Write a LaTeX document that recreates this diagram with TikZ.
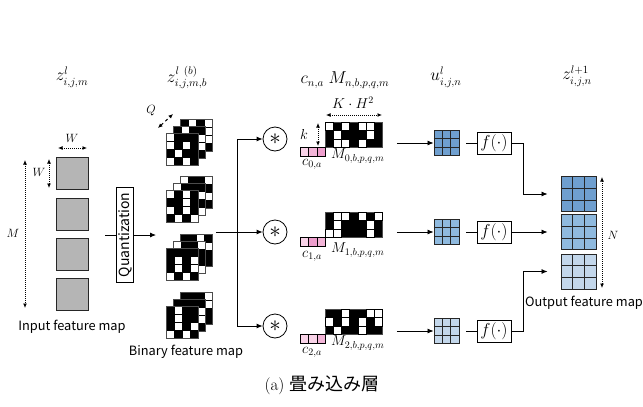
\documentclass[tikz,border=0pt]{standalone}
\usepackage{fontspec}
\newfontfamily\jpsans{Noto Sans CJK JP}
\usetikzlibrary{arrows.meta,calc}
\definecolor{uA}{HTML}{6F9FCF}
\definecolor{uB}{HTML}{8FBADF}
\definecolor{uC}{HTML}{C3D7EB}
\definecolor{pkA}{HTML}{F9D3E8}
\definecolor{pkB}{HTML}{F3B5D8}
\definecolor{pkC}{HTML}{EE9ECD}
\definecolor{gsq}{HTML}{B5B5B5}

\newcommand\blayer[3]{%
  \fill[black] (#1,#2) rectangle ++(32,32);
  \foreach \cc/\rr in {#3}{\draw[fill=white,line width=0.5pt] ({#1+\cc*8},{#2+\rr*8}) rectangle ++(8,8);}
  \draw[black!70,line width=0.5pt] (#1,#2) rectangle ++(32,32);
}
\newcommand\bstack[5]{%
  \blayer{#1+14}{#2}{#3}
  \blayer{#1+7}{#2+7}{#4}
  \blayer{#1}{#2+14}{#5}
}
\newcommand\bgrid[5]{%
  \node[draw=black!85,line width=0.9pt,fill=#5,minimum size=#4,inner sep=0pt] (#1) at (#2,#3) {};
  \foreach \t in {1,2}{
    \draw[black!85,line width=0.9pt] ($(#1.north west)!\t/3!(#1.north east)$) -- ($(#1.south west)!\t/3!(#1.south east)$);
    \draw[black!85,line width=0.9pt] ($(#1.north west)!\t/3!(#1.south west)$) -- ($(#1.north east)!\t/3!(#1.south east)$);
  }
}
\newcommand\mgrid[4]{%
  \node[fill=black,draw=black!70,line width=0.5pt,minimum width=57.4,minimum height=25.2,inner sep=0pt,anchor=north west] (#1) at (#2,#3) {};
  \foreach \cc/\rr in {#4}{\draw[fill=white,line width=0.5pt] ({#2+\cc*8.2},{#3+\rr*8.4}) rectangle ++(8.2,8.4);}
}
\newcommand\cbar[5]{%
  \draw[fill=#3,line width=0.6pt] (#1,#2) rectangle ++(8.5,9);
  \draw[fill=#4,line width=0.6pt] (#1+8.5,#2) rectangle ++(8.5,9);
  \draw[fill=#5,line width=0.6pt] (#1+17,#2) rectangle ++(8.5,9);
}

\begin{document}
\begin{tikzpicture}[x=1pt,y=-1pt,
  conn/.style={line width=0.8pt,-{Latex[length=6pt,width=5pt]}},
  plain/.style={line width=0.8pt},
  dim/.style={densely dotted,line width=1pt,{Latex[length=4.5pt,width=4pt]}-{Latex[length=4.5pt,width=4pt]}},
  ttl/.style={font=\fontsize{16}{18}\selectfont},
  lbl/.style={font=\fontsize{12.5}{14}\selectfont,inner sep=1pt},
  mlbl/.style={font=\fontsize{14}{16}\selectfont,inner sep=1pt},
  sans/.style={font=\jpsans\fontsize{12.8}{15}\selectfont},
  conv/.style={draw,circle,line width=0.8pt,minimum size=24,inner sep=0pt},
  fbox/.style={draw,line width=0.8pt,minimum width=34,minimum height=22,inner sep=0pt,font=\fontsize{16.5}{18}\selectfont},
  sq/.style={draw=black!85,line width=0.9pt,fill=gsq,minimum size=32,inner sep=0pt}]
\useasboundingbox (0,0) rectangle (643,407);

% titles
\node[ttl] (t1) at (72,77) {$z^{l}_{i,j,m}$};
\node[ttl] (t2) at (187,77) {$z^{l\ (b)}_{i,j,m,b}$};
\node[ttl] (t3) at (345,80) {$c_{n,a}\; M_{n,b,p,q,m}$};
\node[ttl] (t4) at (446,77) {$u^{l}_{i,j,n}$};
\node[ttl] (t5) at (577,76) {$z^{l+1}_{i,j,n}$};

% input feature map
\node[sq] (in1) at (72,173) {};
\node[sq] (in2) at (72,214) {};
\node[sq] (in3) at (72,254) {};
\node[sq] (in4) at (72,294) {};
\coordinate (mtop) at (25,160);
\coordinate (mbot) at (25,308);
\draw[dim] (mtop) -- (mbot);
\node[lbl] (mlab) at (13,233) {$M$};
\coordinate (wvt) at (49,159);
\coordinate (wvb) at (49,188);
\draw[dim] (wvt) -- (wvb);
\node[lbl] (wvlab) at (39,172) {$W$};
\coordinate (wha) at (58,148);
\coordinate (whb) at (87,148);
\draw[dim] (wha) -- (whb);
\node[lbl] (whlab) at (72,138) {$W$};
\node[sans] (inlab) at (72,327) {Input feature map};

% quantization
\node[draw,line width=0.8pt,minimum width=17,minimum height=95,inner sep=0pt,font=\jpsans\fontsize{14}{16}\selectfont] (q) at (125,235) {\rotatebox{90}{Quantization}};
\coordinate (qin) at (105,235);
\coordinate (qout) at (156,235);
\draw[plain] (qin) -- (q.west);
\draw[conn] (q.east) -- (qout);

% binary feature maps
\bstack{166}{119}{1/0,3/0,3/1,2/2,3/2}{1/0,3/1,3/2,2/3}{0/0,0/1,2/1,1/2,0/3,2/3}
\bstack{166}{176}{0/0,3/0,2/1,3/2}{0/0,3/1,1/2,3/3}{0/0,2/0,2/1,0/2,2/2,1/3,3/3}
\bstack{166}{234}{2/0,3/1}{0/0,3/0,2/2,3/3}{1/1,3/1,1/2,3/2,0/3,2/3}
\bstack{166}{292}{3/0,2/1,3/1}{3/1,2/2,3/2}{1/0,1/1,1/2,3/2,0/3,2/3}
\coordinate (qa) at (158,128);
\coordinate (qb) at (173,114);
\draw[dim,dashed] (qa) -- (qb);
\node[lbl] (qlab) at (151,111) {$Q$};
\node[sans] (binlab) at (186,352) {Binary feature map};

% bus and convolutions
\node[conv] (c1) at (275,139) {\scalebox{2.3}{$\ast$}};
\node[conv] (c2) at (275,232) {\scalebox{2.3}{$\ast$}};
\node[conv] (c3) at (275,326) {\scalebox{2.3}{$\ast$}};
\coordinate (bin) at (216,232);
\coordinate (b1) at (237,139);
\coordinate (b3) at (237,326);
\draw[plain] (b1) -- (b3);
\draw[conn] (b1) -- (c1);
\draw[conn] (bin) -- (c2);
\draw[conn] (b3) -- (c3);

% weight blocks
\mgrid{m1}{325}{122}{0/0,2/0,4/0,5/0,1/1,5/1,1/2,2/2,4/2}
\mgrid{m2}{325}{212}{1/0,2/0,4/0,6/0,1/1,5/1,0/2,1/2,5/2}
\mgrid{m3}{325}{309}{2/0,5/0,6/0,0/1,2/1,4/1,6/1,1/2,4/2}
\cbar{300}{147}{pkA}{pkB}{pkC}
\cbar{300}{237.5}{pkA}{pkC}{pkB}
\cbar{300}{334}{pkA}{pkA}{pkB}
\node[mlbl,anchor=west] (ml1) at (330,156) {$M_{0,b,p,q,m}$};
\node[mlbl,anchor=west] (ml2) at (330,250) {$M_{1,b,p,q,m}$};
\node[mlbl,anchor=west] (ml3) at (330,343) {$M_{2,b,p,q,m}$};
\node[mlbl] (cl1) at (312,164) {$c_{0,a}$};
\node[mlbl] (cl2) at (312,256) {$c_{1,a}$};
\node[mlbl] (cl3) at (312,352) {$c_{2,a}$};
\coordinate (kt) at (318,123);
\coordinate (kb) at (318,146);
\draw[dim] (kt) -- (kb);
\node[font=\fontsize{15}{17}\selectfont] (klab) at (304,134) {$k$};
\coordinate (kha) at (326,115);
\coordinate (khb) at (382,115);
\draw[dim] (kha) -- (khb);
\node[font=\fontsize{14}{16}\selectfont] (khlab) at (353,103) {$K\cdot H^{2}$};

% u grids and activation
\bgrid{u1}{446.5}{143}{25}{uA}
\bgrid{u2}{446.5}{232}{25}{uB}
\bgrid{u3}{446.5}{331}{25}{uC}
\draw[conn] ($(m1.east |- u1)+(14,0)$) -- (u1.west);
\draw[conn] ($(m2.east |- u2)+(14,0)$) -- (u2.west);
\draw[conn] ($(m3.east |- u3)+(14,0)$) -- (u3.west);
\node[fbox] (f1) at (494,143) {$f(\cdot)$};
\node[fbox] (f2) at (494,232) {$f(\cdot)$};
\node[fbox] (f3) at (494,331) {$f(\cdot)$};
\draw[plain] ($(u1.east)+(7,0)$) -- (f1.west);
\draw[plain] ($(u2.east)+(7,0)$) -- (f2.west);
\draw[plain] ($(u3.east)+(7,0)$) -- (f3.west);

% output
\bgrid{o1}{578.5}{194}{35}{uA}
\bgrid{o2}{578.5}{232}{35}{uB}
\bgrid{o3}{578.5}{271.5}{35}{uC}
\draw[conn] (f1.east) -- ++(12,0) |- ($(o1.west)+(-13,0)$);
\draw[conn] (f2.east) -- ($(o2.west)+(-13,0)$);
\draw[conn] (f3.east) -- ++(12,0) |- ($(o3.west)+(-13,0)$);
\coordinate (nt) at (602,177);
\coordinate (nb) at (602,288);
\draw[dim] (nt) -- (nb);
\node[lbl] (nlab) at (613,235) {$N$};
\node[sans] (outlab) at (584,303) {Output feature map};

% caption
\node[font=\fontsize{17}{19}\selectfont] (cap) at (322,385) {(a) {\jpsans\fontsize{18}{20}\selectfont 畳み込み層}};
\end{tikzpicture}
\end{document}
